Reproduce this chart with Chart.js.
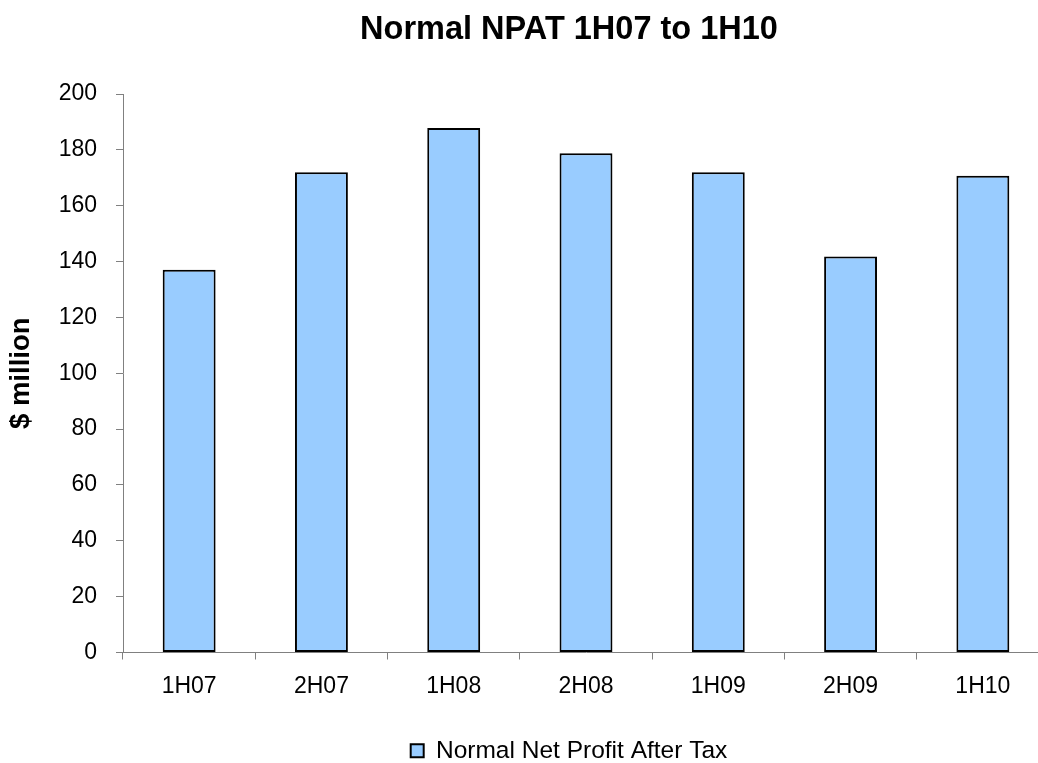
<!DOCTYPE html>
<html>
<head>
<meta charset="utf-8">
<title>Normal NPAT 1H07 to 1H10</title>
<script src="https://cdn.jsdelivr.net/npm/chart.js@4/dist/chart.umd.min.js"></script>
<style>
    html, body { margin: 0; padding: 0; background: #fff; overflow: hidden; }
</style>
</head>
<body>
<canvas id="npatChart" width="1138" height="763"></canvas>
<script>
// Dados do gráfico
var periodos = ['1H07', '2H07', '1H08', '2H08', '1H09', '2H09', '1H10'];
var npatValores = [137.1, 172.0, 187.8, 178.8, 172.0, 141.8, 170.7];
var serieNome = 'Normal Net Profit After Tax';
var yMin = 0, yMax = 200, yPasso = 20;

var fonte = 'Arial, "Liberation Sans", sans-serif';
var cinza = '#808080';

var ctx = document.getElementById('npatChart').getContext('2d');
var npatChart = new Chart(ctx, {
    type: 'bar',
    data: {
        labels: periodos,
        datasets: [{
            label: serieNome,
            data: npatValores,
            backgroundColor: '#99CCFF',
            borderColor: '#000000',
            borderWidth: 2,
            borderSkipped: false,
            barPercentage: 0.40,
            categoryPercentage: 1,
            yAxisID: 'y'
        }]
    },
    options: {
        responsive: false,
        animation: false,
        devicePixelRatio: 1,
        layout: {
            padding: { left: 0, right: 0, top: 0, bottom: -10 }
        },
        plugins: {
            title: {
                display: true,
                text: 'Normal NPAT 1H07 to 1H10',
                color: '#000',
                font: { family: fonte, size: 32.5, weight: 'bold' },
                padding: { top: 11, bottom: 44 }
            },
            legend: {
                position: 'bottom',
                labels: {
                    color: '#000',
                    font: { family: fonte, size: 24.5 },
                    boxWidth: 13,
                    boxHeight: 13,
                    padding: 2
                }
            },
            tooltip: { enabled: false }
        },
        scales: {
            x: {
                grid: {
                    drawOnChartArea: false,
                    color: cinza,
                    tickLength: 7,
                    offset: true
                },
                border: { color: cinza, width: 1 },
                ticks: {
                    color: '#000',
                    font: { family: fonte, size: 23 },
                    padding: 13,
                    maxRotation: 0
                },
                afterFit: function (scale) {
                    scale.height = 84;
                }
            },
            y: {
                min: yMin,
                max: yMax,
                grid: {
                    drawOnChartArea: false,
                    color: cinza,
                    tickLength: 7
                },
                border: { color: cinza, width: 1 },
                ticks: {
                    stepSize: yPasso,
                    color: '#000',
                    font: { family: fonte, size: 23 },
                    padding: 19
                },
                title: {
                    display: true,
                    text: '$ million',
                    color: '#000',
                    font: { family: fonte, size: 27.5, weight: 'bold' },
                    padding: { top: 5, bottom: 0 }
                },
                afterFit: function (scale) {
                    scale.width = 123;
                }
            },
            // eixo vazio à direita, só para reservar espaço (a área do gráfico passa da borda)
            direita: {
                position: 'right',
                grid: { display: false },
                border: { display: false },
                ticks: { display: false },
                afterFit: function (scale) {
                    scale.width = 89;
                }
            }
        }
    }
});
</script>
</body>
</html>
